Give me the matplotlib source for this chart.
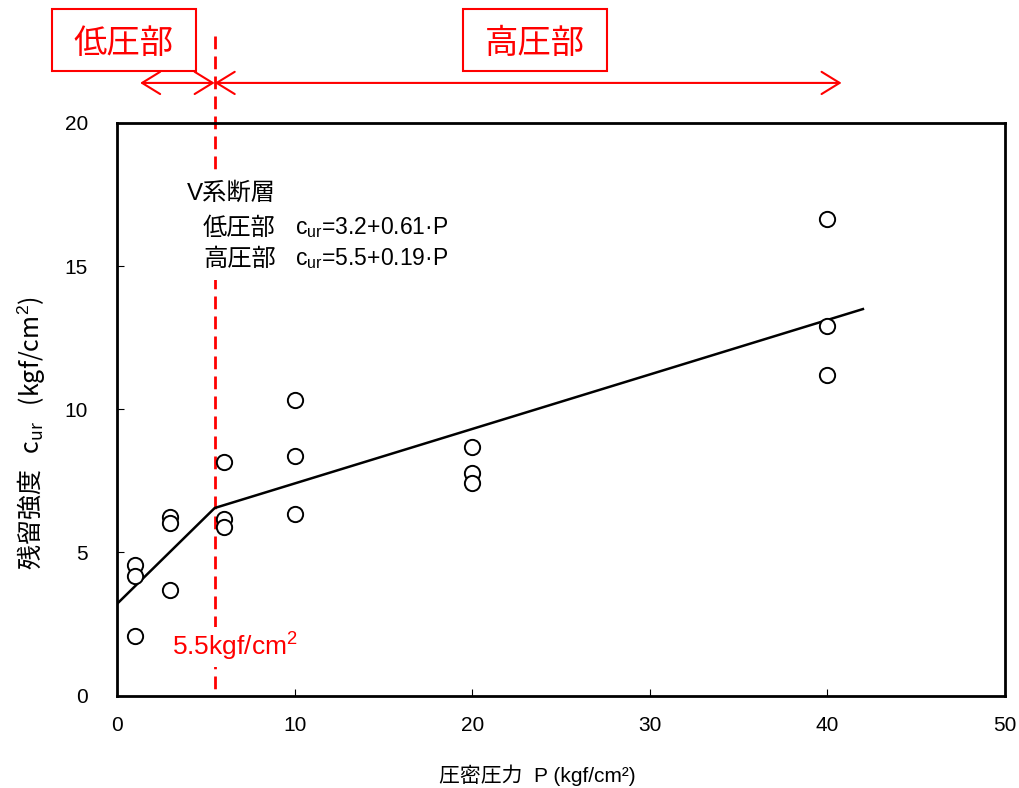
import matplotlib
matplotlib.use('Agg')
import matplotlib.pyplot as plt
from matplotlib.patches import Rectangle, FancyArrowPatch

plt.rcParams['font.family'] = ['Liberation Sans', 'Noto Sans CJK JP']
plt.rcParams['mathtext.fontset'] = 'custom'
plt.rcParams['mathtext.rm'] = 'Liberation Sans'
plt.rcParams['mathtext.it'] = 'Liberation Sans:italic'

# measured points: consolidation pressure P vs residual strength c_ur
pressure = [1, 1, 1, 3, 3, 3, 6, 6, 6, 10, 10, 10, 20, 20, 20, 40, 40, 40]
strength = [4.56, 4.19, 2.08, 6.22, 6.04, 3.69, 8.15, 6.17, 5.89,
            10.31, 8.35, 6.34, 8.69, 7.78, 7.43, 16.63, 12.92, 11.21]

# bilinear fit line (low / high pressure parts)
fit_p = [0, 5.5, 42]
fit_c = [3.2, 6.55, 13.5]

split_p = 5.5
low_arrow = [1.3, 5.5]
high_arrow = [5.5, 40.8]

RED = '#FF0000'
W, H = 1019, 788


def px(x, y):
    # pixel position (from top-left) to figure fraction
    return x / W, 1 - y / H


fig = plt.figure(figsize=(W / 100, H / 100), dpi=100)
ax = fig.add_axes([117 / W, (H - 695.5) / H, (1005 - 117) / W, (695.5 - 123) / H])

ax.plot(fit_p, fit_c, color='black', lw=1.8, zorder=3)
ax.plot(pressure, strength, 'o', ms=11, mfc='white', mec='black', mew=1.4,
        zorder=4, clip_on=False)

ax.set_xlim(0, 50)
ax.set_ylim(0, 20)
ax.set_xticks(range(0, 51, 10))
ax.set_yticks(range(0, 21, 5))
ax.tick_params(direction='in', length=5, width=0.8, labelsize=15)
ax.tick_params(axis='x', pad=15)
ax.tick_params(axis='y', pad=21)
for s in ax.spines.values():
    s.set_linewidth(2)

# red dashed split line, runs above the axes (drawn top-down)
trans = ax.get_xaxis_transform()
ax.plot([split_p, split_p], [1.152, 0], color=RED, lw=2, ls=(0, (4.6, 2.6)),
        transform=trans, clip_on=False, zorder=2)

# arrows above the plot
for a, b in (low_arrow, high_arrow):
    arr = FancyArrowPatch((a, 1.07), (b, 1.07), transform=trans,
                          arrowstyle='<->,head_length=0.65,head_width=0.4',
                          mutation_scale=20, color=RED, lw=1.5,
                          clip_on=False, shrinkA=0, shrinkB=0)
    ax.add_patch(arr)

# red boxed labels
for (x0, x1), label in (((52, 196), '低圧部'), ((463, 607), '高圧部')):
    fx0, fy0 = px(x0, 71)
    fx1, fy1 = px(x1, 9)
    fig.patches.append(Rectangle((fx0, fy0), fx1 - fx0, fy1 - fy0,
                                 transform=fig.transFigure, fill=False,
                                 ec=RED, lw=1.5))
    cx, cy = px((x0 + x1) / 2, 43)
    fig.text(cx, cy, label, color=RED, fontsize=24, ha='center', va='center',
             family='Noto Sans CJK JP')

# equation block with white background (hides the dashed line)
bb = dict(facecolor='white', edgecolor='none', pad=6)
fig.text(*px(187, 194), 'V系断層', fontsize=17.5, ha='left', va='center',
         family=['Liberation Sans', 'Noto Sans CJK JP'], bbox=bb, zorder=5)
fig.text(*px(203, 228), '低圧部', fontsize=17.5, ha='left', va='center',
         family='Noto Sans CJK JP', bbox=bb, zorder=5)
fig.text(*px(295, 228), r'$\mathregular{c_{ur}}$=3.2+0.61·P', fontsize=16.5,
         ha='left', va='center', zorder=5)
fig.text(*px(203, 259), '高圧部', fontsize=17.5, ha='left', va='center',
         family='Noto Sans CJK JP', bbox=bb, zorder=5)
fig.text(*px(295, 259), r'$\mathregular{c_{ur}}$=5.5+0.19·P', fontsize=16.5,
         ha='left', va='center', zorder=5)

fig.text(*px(172, 647), r'5.5kgf/cm$^{2}$', color=RED, fontsize=19,
         ha='left', va='center',
         bbox=dict(facecolor='white', edgecolor='none', pad=3), zorder=5)

# axis labels
fig.text(*px(32, 433), r'残留強度   $\mathregular{c_{ur}}$   (kgf/cm$^{2}$)',
         rotation=90, fontsize=18, ha='center', va='center',
         family='Noto Sans CJK JP')
fig.text(*px(537, 775), r'圧密圧力  P (kgf/cm²)', fontsize=15, ha='center',
         va='center', family=['Liberation Sans', 'Noto Sans CJK JP'])

fig.savefig('out.png', dpi=100)
